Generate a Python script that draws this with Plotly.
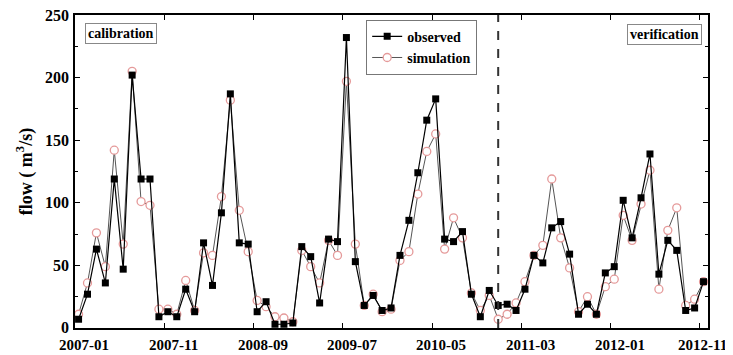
import plotly.graph_objects as go

# month index 0 = 2007-01 ... 70 = 2012-11
months = list(range(71))
observed = [7, 27, 63, 36, 119, 47, 202, 119, 119, 9,
            13, 9, 31, 13, 68, 34, 92, 187, 68, 67,
            13, 21, 3, 3, 4, 65, 57, 20, 71, 69,
            232, 53, 18, 26, 14, 16, 58, 86, 124, 166,
            183, 71, 69, 77, 27, 9, 30, 18, 19, 14,
            31, 58, 52, 80, 85, 59, 11, 19, 11, 44,
            49, 102, 72, 104, 139, 43, 70, 62, 14, 16,
            37]
simulation = [11, 36, 76, 49, 142, 67, 205, 101, 98, 15,
              15, 11, 38, 14, 60, 58, 105, 182, 94, 61,
              22, 17, 9, 8, 5, 62, 49, 36, 70, 58,
              197, 67, 18, 27, 13, 15, 54, 61, 107, 141,
              155, 63, 88, 72, 28, 14, 26, 7, 11, 20,
              37, 58, 66, 119, 72, 48, 13, 25, 11, 33,
              39, 90, 70, 99, 126, 31, 78, 96, 18, 23,
              37]
tick_months = [0, 10, 20, 30, 40, 50, 60, 70]
tick_labels = ["2007-01", "2007-11", "2008-09", "2009-07",
               "2010-05", "2011-03", "2012-01", "2012-11"]
y_ticks = [0, 50, 100, 150, 200, 250]
split_month = 47

SERIF = "Liberation Serif, Times New Roman, serif"
tick_pos = [m - 0.4 for m in tick_months]

fig = go.Figure()
fig.add_trace(go.Scatter(
    x=months, y=simulation, name="<b>simulation</b>", mode="lines+markers",
    line=dict(color="#555555", width=1),
    marker=dict(symbol="circle", size=8, color="white",
                line=dict(color="#e59a9a", width=1.3)),
))
fig.add_trace(go.Scatter(
    x=months, y=observed, name="<b>observed</b>", mode="lines+markers",
    line=dict(color="black", width=1.2),
    marker=dict(symbol="square", size=7, color="black"),
))

fig.add_shape(type="line", x0=split_month, x1=split_month, y0=0, y1=250,
              xref="x", yref="y",
              line=dict(color="#333333", width=2, dash="dash"))

axis_common = dict(showline=True, linecolor="black", linewidth=1.6,
                   mirror="ticks", ticks="inside", ticklen=5,
                   tickcolor="black", showgrid=False, zeroline=False,
                   automargin=False)

fig.update_xaxes(range=[-0.4, 70.5], tickvals=tick_pos,
                 showticklabels=False, **axis_common)
fig.update_yaxes(range=[0, 250], tickvals=y_ticks,
                 showticklabels=False,
                 minor=dict(dtick=25, ticks="inside", ticklen=3, tickcolor="black"),
                 title=dict(text="flow ( m<sup>3</sup>/s)",
                            font=dict(family=SERIF, size=18, color="black", weight="bold"),
                            standoff=36),
                 **axis_common)

# y tick labels as text next to the axis
for v in y_ticks:
    fig.add_annotation(x=0, y=v, xref="paper", yref="y", text="<b>%d</b>" % v,
                       showarrow=False, xanchor="right", yanchor="middle",
                       xshift=-5, yshift=1 if v == 0 else 0, borderpad=0,
                       font=dict(family=SERIF, size=16, color="black"))

# x tick labels (sit slightly right of their ticks, as in the source figure)
for i, (tp, lab) in enumerate(zip(tick_pos, tick_labels)):
    fig.add_annotation(x=tp, y=0, xref="x", yref="paper", text="<b>" + lab + "</b>",
                       showarrow=False, xanchor="center", yanchor="middle",
                       xshift=9 if i < len(tick_pos) - 1 else 3, yshift=-17, borderpad=0,
                       font=dict(family=SERIF, size=15, color="black"))

fig.add_annotation(x=0.016, y=0.975, xref="paper", yref="paper",
                   text="<b>calibration</b>", showarrow=False,
                   xanchor="left", yanchor="top",
                   bordercolor="#888888", borderwidth=1, borderpad=2,
                   font=dict(family=SERIF, size=14, color="black"))
fig.add_annotation(x=0.99, y=0.972, xref="paper", yref="paper",
                   text="<b>verification</b>", showarrow=False,
                   xanchor="right", yanchor="top",
                   bordercolor="#888888", borderwidth=1, borderpad=2,
                   font=dict(family=SERIF, size=14, color="black"))

# page body has an 8px margin, so the figure is sized to end at the window edge
fig.update_layout(
    width=725, height=347,
    margin=dict(l=67, r=25, t=7, b=27),
    paper_bgcolor="white", plot_bgcolor="white",
    legend=dict(x=0.46, y=0.985, xanchor="left", yanchor="top",
                bordercolor="#777777", borderwidth=1, bgcolor="white",
                traceorder="reversed", itemwidth=30, tracegroupgap=0,
                font=dict(family=SERIF, size=14, color="black")),
    showlegend=True,
)

fig.write_html("out.html")
